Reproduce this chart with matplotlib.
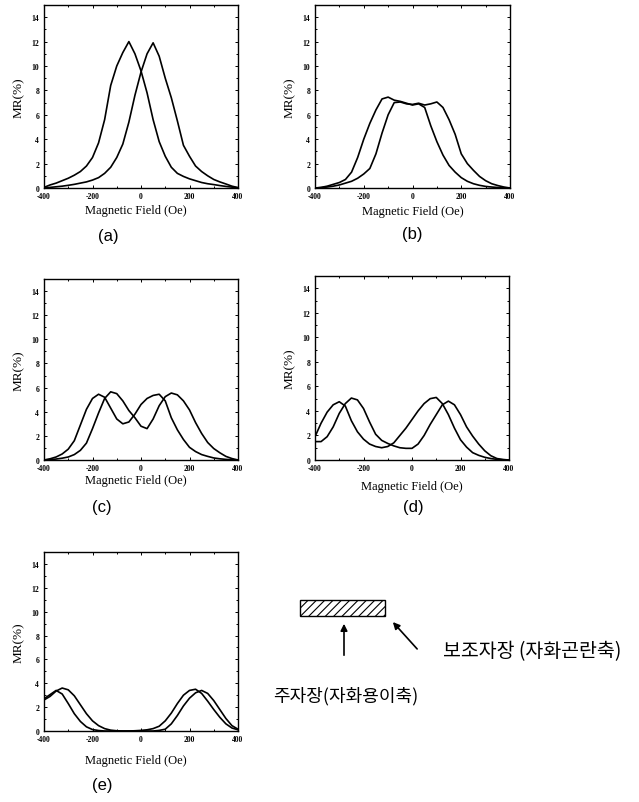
import matplotlib
matplotlib.use("Agg")
import matplotlib.pyplot as plt
from matplotlib.patches import Rectangle
from matplotlib.ticker import MultipleLocator

plt.rcParams["axes.unicode_minus"] = False
plt.rcParams["hatch.linewidth"] = 0.8

# field axis, Oe (shared by every panel)
FIELD = [-400, -375, -350, -325, -300, -275, -250, -225, -200, -175, -150,
         -125, -100, -75, -50, -25, 0, 25, 50, 75, 100, 125, 150, 175, 200,
         225, 250, 275, 300, 325, 350, 375, 400]

# MR (%), two branches per panel
A_UP = [0.05, 0.25, 0.4, 0.6, 0.8, 1.05, 1.35, 1.8, 2.5, 3.7, 5.6, 8.4, 10.0,
        11.1, 12.0, 11.0, 9.6, 7.8, 5.6, 3.8, 2.6, 1.7, 1.2, 0.95, 0.75, 0.6,
        0.45, 0.35, 0.28, 0.2, 0.13, 0.07, 0.02]
A_DN = [0.0, 0.05, 0.1, 0.15, 0.22, 0.3, 0.4, 0.5, 0.65, 0.85, 1.2, 1.7, 2.5,
        3.6, 5.4, 7.6, 9.5, 11.0, 11.9, 10.8, 9.0, 7.4, 5.5, 3.5, 2.6, 1.8,
        1.35, 1.0, 0.7, 0.5, 0.33, 0.15, 0.03]

B_UP = [0.0, 0.05, 0.15, 0.3, 0.45, 0.7, 1.3, 2.5, 4.0, 5.3, 6.4, 7.3, 7.45,
        7.2, 7.1, 6.95, 6.8, 6.9, 6.6, 5.1, 3.8, 2.7, 1.85, 1.3, 0.85, 0.55,
        0.35, 0.22, 0.13, 0.08, 0.04, 0.02, 0.0]
B_DN = [0.0, 0.03, 0.08, 0.15, 0.25, 0.4, 0.55, 0.8, 1.15, 1.6, 2.8, 4.5, 6.0,
        7.0, 7.05, 6.9, 6.85, 6.95, 6.8, 6.9, 7.05, 6.6, 5.6, 4.4, 2.8, 2.0,
        1.45, 0.95, 0.6, 0.35, 0.2, 0.08, 0.0]

C_UP = [0.0, 0.1, 0.25, 0.5, 0.9, 1.6, 2.9, 4.2, 5.1, 5.45, 5.2, 4.3, 3.4,
        3.0, 3.15, 3.8, 4.6, 5.1, 5.35, 5.45, 4.9, 3.5, 2.5, 1.7, 1.05, 0.7,
        0.45, 0.3, 0.17, 0.1, 0.05, 0.02, 0.0]
C_DN = [0.0, 0.03, 0.08, 0.15, 0.25, 0.45, 0.8, 1.4, 2.6, 3.9, 5.1, 5.65, 5.5,
        4.9, 4.1, 3.5, 2.8, 2.6, 3.4, 4.5, 5.25, 5.55, 5.4, 4.9, 4.15, 3.1,
        2.2, 1.45, 0.95, 0.6, 0.3, 0.12, 0.0]

D_UP = [1.9, 3.0, 3.9, 4.5, 4.75, 4.4, 3.2, 2.3, 1.7, 1.3, 1.1, 1.0, 1.1,
        1.4, 2.0, 2.6, 3.3, 4.0, 4.6, 5.0, 5.1, 4.6, 3.7, 2.6, 1.65, 1.05,
        0.6, 0.38, 0.22, 0.12, 0.05, 0.02, 0.0]
D_DN = [1.5, 1.5, 1.9, 2.7, 3.8, 4.6, 5.05, 4.9, 4.2, 3.1, 2.1, 1.6, 1.35,
        1.15, 1.0, 0.95, 0.95, 1.3, 2.0, 2.9, 3.7, 4.5, 4.8, 4.5, 3.7, 2.7,
        1.95, 1.3, 0.75, 0.35, 0.12, 0.04, 0.0]

E_UP = [2.7, 3.05, 3.4, 3.1, 2.3, 1.45, 0.8, 0.35, 0.12, 0.04, 0.0, 0.0, 0.0,
        0.0, 0.0, 0.02, 0.05, 0.1, 0.2, 0.4, 0.85, 1.5, 2.3, 3.0, 3.4, 3.5,
        3.15, 2.5, 1.8, 1.15, 0.6, 0.25, 0.1]
E_DN = [2.6, 2.9, 3.35, 3.6, 3.45, 2.95, 2.2, 1.45, 0.85, 0.45, 0.2, 0.07,
        0.02, 0.0, 0.0, 0.0, 0.0, 0.0, 0.0, 0.05, 0.15, 0.6, 1.3, 2.1, 2.75,
        3.2, 3.4, 3.15, 2.55, 1.8, 1.05, 0.45, 0.15]

PANEL_LABELS = ["(a)", "(b)", "(c)", "(d)", "(e)"]
XTICKS = [-400, -200, 0, 200, 400]
YTICKS = [0, 2, 4, 6, 8, 10, 12, 14]

MAIN_AXIS = "주자장(자화용이축)"
AUX_AXIS = "보조자장 (자화곤란축)"

W, H = 639, 803
SERIF = "Liberation Serif"
KR = ["Noto Sans CJK KR", "DejaVu Sans"]

fig = plt.figure(figsize=(W / 100, H / 100), dpi=100)


def px_rect(l, t, r, b):
    return [l / W, 1 - b / H, (r - l) / W, (b - t) / H]


# (axes box in px, xlabel y, panel label x, panel label y)
layout = [
    ((44, 6, 238, 189), 211, 108, 236),
    ((315, 6, 510, 189), 212, 412, 235),
    ((44, 280, 238, 461), 481, 102, 508),
    ((315, 277, 509, 461), 487, 413, 508),
    ((44, 553, 238, 732), 761, 102, 786),
]
curves = [(A_UP, A_DN), (B_UP, B_DN), (C_UP, C_DN), (D_UP, D_DN), (E_UP, E_DN)]

for (box, xl_y, pl_x, pl_y), (up, dn), lab in zip(layout, curves, PANEL_LABELS):
    l, t, r, b = box
    ax = fig.add_axes(px_rect(l, t, r, b))
    ax.plot(FIELD, up, color="black", lw=1.2)
    ax.plot(FIELD, dn, color="black", lw=1.2)
    ax.set_xlim(-400, 400)
    ax.set_ylim(0, 15)
    ax.set_xticks(XTICKS)
    ax.set_yticks(YTICKS)
    ax.xaxis.set_minor_locator(MultipleLocator(100))
    ax.yaxis.set_minor_locator(MultipleLocator(1))
    ax.tick_params(which="both", direction="in", top=True, right=True,
                   width=0.7)
    ax.tick_params(which="major", length=2.5, labelsize=5.5)
    ax.tick_params(which="minor", length=1.3)
    ax.tick_params(axis="x", pad=3)
    ax.tick_params(axis="y", pad=3.5)
    for tl in ax.get_xticklabels() + ax.get_yticklabels():
        tl.set_fontfamily(SERIF)
        tl.set_fontweight("bold")
    for s in ax.spines.values():
        s.set_linewidth(1.0)

    cx = (l + r) / 2
    if l < 100:
        cx = 136
    fig.text(cx / W, 1 - xl_y / H, "Magnetic Field (Oe)", ha="center",
             va="center", fontsize=9, family=SERIF)
    fig.text((l - 25) / W, 1 - (t + b) / 2 / H, "MR(%)", rotation=90,
             ha="center", va="center", fontsize=9.5, family=SERIF)
    fig.text(pl_x / W, 1 - pl_y / H, lab, ha="center", va="center",
             fontsize=12, family="Liberation Sans")

# sketch of the strip with the two field directions
ann = fig.add_axes([0, 0, 1, 1], zorder=-1)
ann.set_xlim(0, W)
ann.set_ylim(H, 0)
ann.axis("off")
ann.add_patch(Rectangle((300, 601), 85, 16, facecolor="white",
                        edgecolor="black", lw=1.0, hatch="////"))
ann.annotate("", xy=(344, 622), xytext=(344, 659),
             arrowprops=dict(arrowstyle="-|>", color="black", lw=1.2,
                             mutation_scale=10))
ann.annotate("", xy=(391, 621), xytext=(419, 652),
             arrowprops=dict(arrowstyle="-|>", color="black", lw=1.2,
                             mutation_scale=10))
ann.text(443, 652, AUX_AXIS, ha="left", va="center", fontsize=14, family=KR)
ann.text(273, 696, MAIN_AXIS, ha="left", va="center", fontsize=13, family=KR)

fig.savefig("out.png", dpi=100, facecolor="white")
